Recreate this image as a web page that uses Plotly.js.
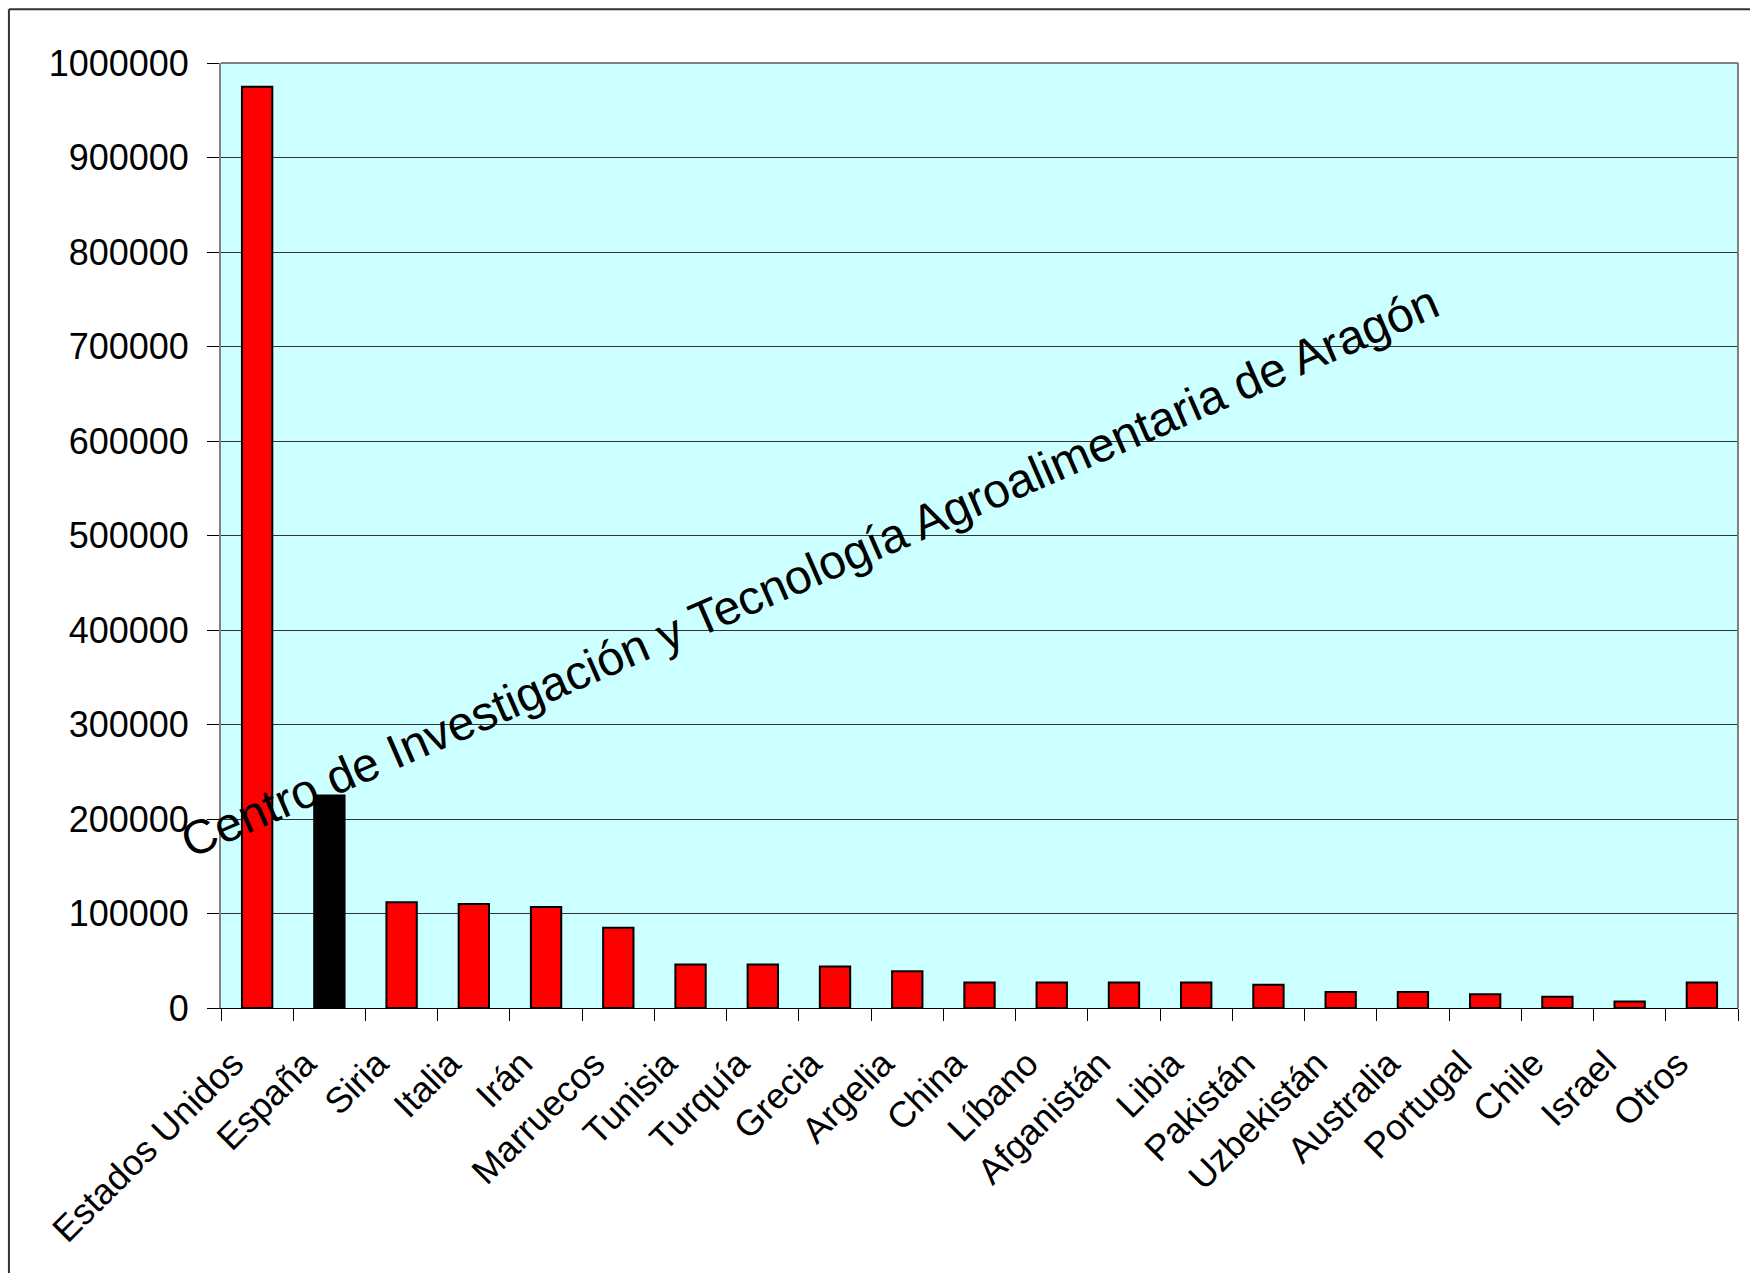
<!DOCTYPE html>
<html>
<head>
<meta charset="utf-8">
<script src="https://cdn.plot.ly/plotly-3.0.1.min.js"></script>
<style>
  html, body { margin: 0; padding: 0; background: #ffffff; }
  #chart { width: 1750px; height: 1273px; }
</style>
</head>
<body>
<div id="chart"></div>
<script>
// Data
const countries = ["Estados Unidos", "España", "Siria", "Italia", "Irán", "Marruecos", "Tunisia", "Turquía", "Grecia", "Argelia", "China", "Líbano", "Afganistán", "Libia", "Pakistán", "Uzbekistán", "Australia", "Portugal", "Chile", "Israel", "Otros"];
const values = [975000, 225000, 112000, 110000, 107000, 85000, 46000, 46000, 44000, 39000, 27000, 27000, 27000, 27000, 24500, 17000, 17000, 14500, 12000, 7000, 27000];
const yTicks = [0, 100000, 200000, 300000, 400000, 500000, 600000, 700000, 800000, 900000, 1000000];
const highlighted = "España";
const watermark = "Centro de Investigación y Tecnología Agroalimentaria de Aragón";

const FONT = "Liberation Sans, Arial, Helvetica, sans-serif";
const barColors = countries.map(c => c === highlighted ? "#000000" : "#FF0000");

const trace = {
  type: "bar",
  x: countries,
  y: values,
  marker: { color: barColors, line: { color: "#000000", width: 2 } },
  hoverinfo: "x+y"
};

const layout = {
  width: 1750,
  height: 1273,
  margin: { l: 221, r: 12, t: 63, b: 265, pad: 0 },
  paper_bgcolor: "#ffffff",
  plot_bgcolor: "#CCFFFF",
  showlegend: false,
  bargap: 0.58,
  font: { family: FONT, color: "#000000", size: 36 },
  xaxis: {
    type: "category",
    tickangle: -45,
    ticks: "outside",
    tickson: "boundaries",
    ticklen: 12,
    tickwidth: 1,
    tickcolor: "#000000",
    ticklabelstandoff: 19,
    ticklabelshift: -24,
    showline: true,
    linecolor: "#000000",
    linewidth: 1,
    mirror: false,
    showgrid: false,
    tickfont: { family: FONT, size: 36, color: "#000000" },
    automargin: false
  },
  yaxis: {
    range: [0, 1000000],
    tickvals: yTicks,
    ticktext: yTicks.map(v => String(v)),
    ticks: "outside",
    ticklen: 12,
    tickwidth: 1,
    tickcolor: "#000000",
    ticklabelstandoff: 11,
    showline: true,
    linecolor: "#808080",
    linewidth: 2,
    showgrid: true,
    gridcolor: "#333333",
    gridwidth: 1,
    zeroline: false,
    tickfont: { family: FONT, size: 36, color: "#000000" },
    automargin: false
  },
  shapes: [
    // plot area frame (top & right)
    { type: "line", xref: "paper", yref: "paper", x0: 0, x1: 1, y0: 1, y1: 1, line: { color: "#808080", width: 2 } },
    { type: "line", xref: "paper", yref: "paper", x0: 1, x1: 1, y0: 0, y1: 1, line: { color: "#808080", width: 2 } },
    // outer chart border (left & top visible)
    { type: "line", xref: "paper", yref: "paper", x0: -0.1398, x1: -0.1398, y0: -0.4, y1: 1.057, line: { color: "#333333", width: 2 } },
    { type: "line", xref: "paper", yref: "paper", x0: -0.1398, x1: 1.05, y0: 1.057, y1: 1.057, line: { color: "#333333", width: 2 } }
  ],
  annotations: [
    {
      text: watermark,
      xref: "paper", yref: "paper",
      x: 0.388, y: 0.462,
      xanchor: "center", yanchor: "middle",
      showarrow: false,
      textangle: -23.5,
      font: { family: FONT, size: 48, color: "#000000" }
    }
  ]
};

Plotly.newPlot("chart", [trace], layout, { staticPlot: true, displayModeBar: false });
</script>
</body>
</html>
